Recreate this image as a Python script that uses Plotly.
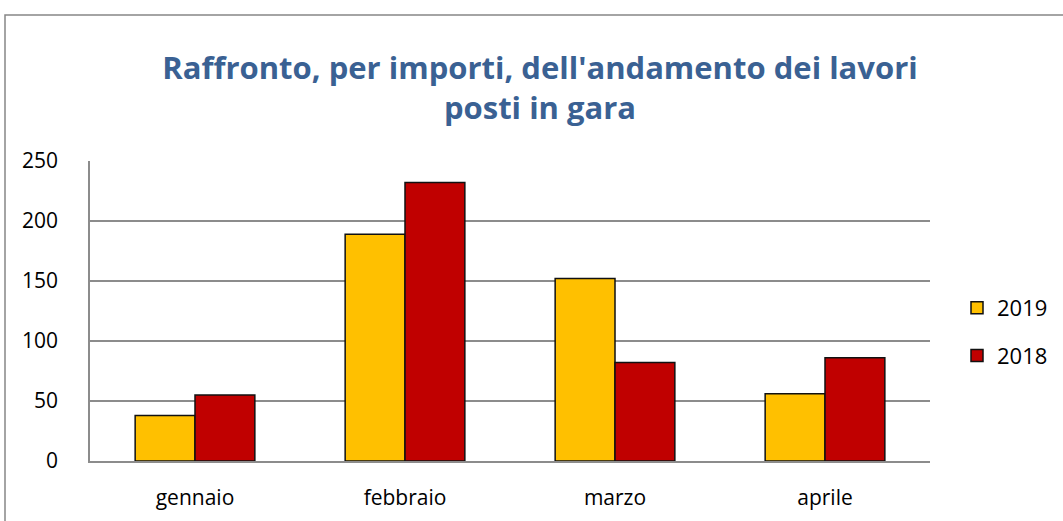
import plotly.graph_objects as go

categories = ["gennaio", "febbraio", "marzo", "aprile"]
series_names = ["2019", "2018"]
values_2019 = [38, 189, 152, 56]
values_2018 = [55, 232, 82, 86]
y_ticks = [0, 50, 100, 150, 200, 250]

colors = {"2019": "#FFC000", "2018": "#C00000"}
font_family = "Open Sans, Liberation Sans, sans-serif"

fig = go.Figure()
for name, vals, grp in [("2019", values_2019, "a"), ("2018", values_2018, "b")]:
    fig.add_trace(go.Bar(
        x=categories, y=vals, name=name, legendgroup=grp,
        marker=dict(color=colors[name], line=dict(color="#111111", width=1.5)),
    ))

L, R, T, B = 90, 133, 161, 60
W, H = 1063, 521
pw, ph = W - L - R, H - T - B

def px_to_paper_x(px):
    return (px - L) / pw

def px_to_paper_y(py):
    return (H - B - py) / ph

fig.update_layout(
    width=W, height=H,
    margin=dict(l=L, r=R, t=T, b=B, pad=0, autoexpand=False),
    paper_bgcolor="white", plot_bgcolor="white",
    barmode="group", bargap=0.43, bargroupgap=0,
    font=dict(family=font_family, size=21, color="#000000"),
    title=dict(
        text="<b>Raffronto, per importi, dell'andamento dei lavori<br>posti in gara</b>",
        x=px_to_paper_x(540), xref="paper", xanchor="center",
        y=1 - 79 / H, yref="container", yanchor="middle",
        font=dict(family=font_family, size=31, color="#3A6193"),
    ),
    xaxis=dict(
        showgrid=False, showline=True, linecolor="#8C8C8C", linewidth=1.5,
        ticks="", ticklabelstandoff=17, tickfont=dict(size=21), automargin=False,
    ),
    yaxis=dict(
        range=[0, 250], tickvals=y_ticks, showgrid=True, gridcolor="#8C8C8C", gridwidth=1.5,
        showline=True, linecolor="#8C8C8C", linewidth=1.5, zeroline=False,
        ticks="", ticklabelstandoff=26, tickfont=dict(size=21), automargin=False,
    ),
    legend=dict(
        x=px_to_paper_x(957), xanchor="left",
        y=px_to_paper_y(287), yanchor="top",
        tracegroupgap=16, font=dict(size=22),
        bgcolor="rgba(0,0,0,0)",
    ),
    shapes=[dict(
        type="rect", xref="paper", yref="paper",
        x0=px_to_paper_x(5), x1=px_to_paper_x(1075),
        y0=px_to_paper_y(535), y1=px_to_paper_y(15),
        line=dict(color="#868686", width=1.5), fillcolor="rgba(0,0,0,0)", layer="below",
    )],
)

fig.write_html(
    "out.html",
    config={"displayModeBar": False},
    post_script="document.body.style.margin='0';document.body.style.overflow='hidden';",
)
